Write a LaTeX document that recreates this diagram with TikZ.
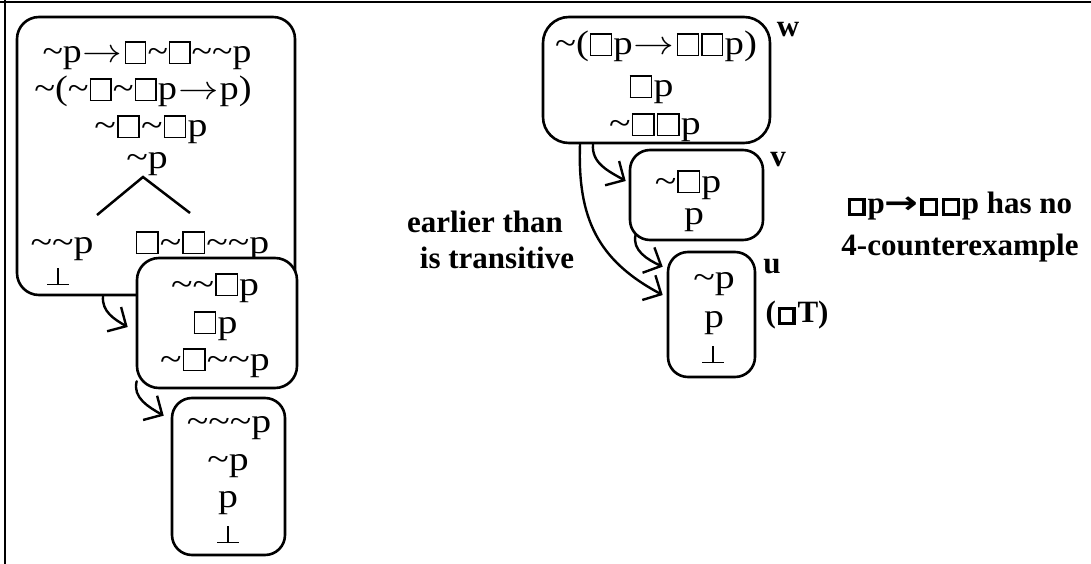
\documentclass[tikz,border=0pt]{standalone}
\usepackage{fontspec}
\usepackage{unicode-math}
\setmainfont{Liberation Serif}
\setmathfont{Latin Modern Math}
\newfontfamily\djv{DejaVu Sans}
\usepackage{graphicx}
\usetikzlibrary{arrows.meta,calc}

% symbols
\newcommand\tld{\textasciitilde}
\newcommand\bx{{\fboxsep=0pt\fboxrule=0.035em\kern0.03em\fbox{\rule{0pt}{0.6em}\rule{0.5em}{0pt}}\kern0.03em}}
\newcommand\bbx{{\fboxsep=0pt\fboxrule=0.11em\kern0.06em\fbox{\rule{0pt}{0.38em}\rule{0.36em}{0pt}}\kern0.06em}}
\newcommand\fal{\hbox to 0.55em{\rule{0.55em}{0.04em}\kern-0.295em\rule{0.04em}{0.5em}\hss}}
\newcommand\imp{\kern0.03em\scalebox{1.05}[1]{$\mathord{\rightarrow}$}\kern0.03em}
\newcommand\bimp{\scalebox{1.3}[1]{\djv\bfseries →}}
\newcommand\hs[2][1.17]{\scalebox{#1}[1]{#2}}

\tikzset{
  world/.style={draw, line width=2.6pt, rounded corners=22pt, fill=white, inner sep=0pt},
  fml/.style={anchor=base, inner sep=0pt, font=\fontsize{34}{34}\selectfont},
  lbl/.style={anchor=base, inner sep=0pt, font=\fontsize{31}{31}\selectfont\bfseries},
  conn/.style={line width=2.4pt, line cap=round,
    -{Straight Barb[length=14pt,width=28pt,line width=2.4pt]}},
  frame/.style={line width=2pt}
}

\begin{document}
\begin{tikzpicture}[x=1pt,y=1pt]
\useasboundingbox (0,0) rectangle (1091,-564);
\draw[frame] (0,-2) -- (1091,-2);
\draw[frame] (5,0) -- (5,-564);

% left column of worlds
\node[world, minimum width=278pt, minimum height=278pt] (A) at (156,-156) {};
\node[fml] (a1) at (147,-63) {\hs[1.11]{\tld p\imp\bx\tld\bx\tld\tld p}};
\node[fml] (a2) at (143,-100) {\hs[1.13]{\tld(\tld\bx\tld\bx p\imp p)}};
\node[fml] (a3) at (151,-137) {\hs{\tld\bx\tld\bx p}};
\node[fml] (a4) at (147,-168) {\hs{\tld p}};
\node[fml] (a5) at (62,-253) {\hs{\tld\tld p}};
\node[fml] (a6) at (202,-253) {\hs{\bx\tld\bx\tld\tld p}};
\node[fml] (a7) at (58,-285) {\hs{\fal}};
\coordinate (apex) at (143,-177);
\coordinate (brL) at (97,-215);
\coordinate (brR) at (190,-213);
\draw[line width=2.5pt] (brL) -- (apex) -- (brR);

\node[world, minimum width=160pt, minimum height=130pt] (B) at (217,-323) {};
\node[fml] (b1) at (215,-295) {\hs{\tld\tld\bx p}};
\node[fml] (b2) at (215,-333) {\hs{\bx p}};
\node[fml] (b3) at (215,-370) {\hs{\tld\bx\tld\tld p}};

\node[world, minimum width=113pt, minimum height=157pt, rounded corners=20pt] (C) at (228.5,-476.5) {};
\node[fml] (c1) at (229,-432) {\hs{\tld\tld\tld p}};
\node[fml] (c2) at (228,-470) {\hs{\tld p}};
\node[fml] (c3) at (228,-507) {\hs{p}};
\node[fml] (c4) at (228,-543) {\hs{\fal}};

\draw[conn] ([xshift=-53pt]A.south) to[out=-95,in=150] ([shift={(-8,-4)}]B.west);
\draw[conn] ([shift={(1,8)}]B.south west) to[out=-105,in=150] ([shift={(-7,-19)}]C.north west);

% right column of worlds
\node[world, minimum width=227pt, minimum height=126pt, rounded corners=26pt] (W) at (656.5,-80) {};
\node[fml] (w1) at (656,-55) {\hs[1.14]{\tld(\bx p\imp\bx\bx p)}};
\node[fml] (w2) at (651,-97) {\hs{\bx p}};
\node[fml] (w3) at (655,-135) {\hs{\tld\bx\bx p}};
\node[lbl] (wl) at (788,-37) {w};

\node[world, minimum width=133pt, minimum height=90pt, rounded corners=20pt] (V) at (696.5,-195) {};
\node[fml] (v1) at (688,-192) {\hs{\tld\bx p}};
\node[fml] (v2) at (694,-224) {\hs{p}};
\node[lbl] (vl) at (778,-167) {v};

\node[world, minimum width=87pt, minimum height=125pt, rounded corners=20pt] (U) at (711.5,-314.5) {};
\node[fml] (u1) at (714,-288) {\hs{\tld p}};
\node[fml] (u2) at (714,-327) {\hs{p}};
\node[fml] (u3) at (713,-363) {\hs{\fal}};
\node[lbl] (ul) at (772,-273) {u};
\node[lbl] (rule) at (797,-322) {(\bbx T)};

\draw[conn] ([xshift=-63.5pt]W.south) to[out=-95,in=150] ([shift={(-3,14)}]V.west);
\draw[conn] ([xshift=-76.5pt]W.south) to[out=-92,in=152,looseness=1.1] ([shift={(-4,19.5)}]U.west);
\draw[conn] ([shift={(7,7)}]V.south west) to[out=-105,in=155] ([shift={(-4,-16)}]U.north west);

% annotations
\node[lbl] (e1) at (485,-232) {earlier than};
\node[lbl] (e2) at (497,-268) {is transitive};
\node[lbl] (n1) at (959,-213) {\bbx p\bimp\bbx\bbx p has no};
\node[lbl] (n2) at (960,-255) {4-counterexample};
\end{tikzpicture}
\end{document}
